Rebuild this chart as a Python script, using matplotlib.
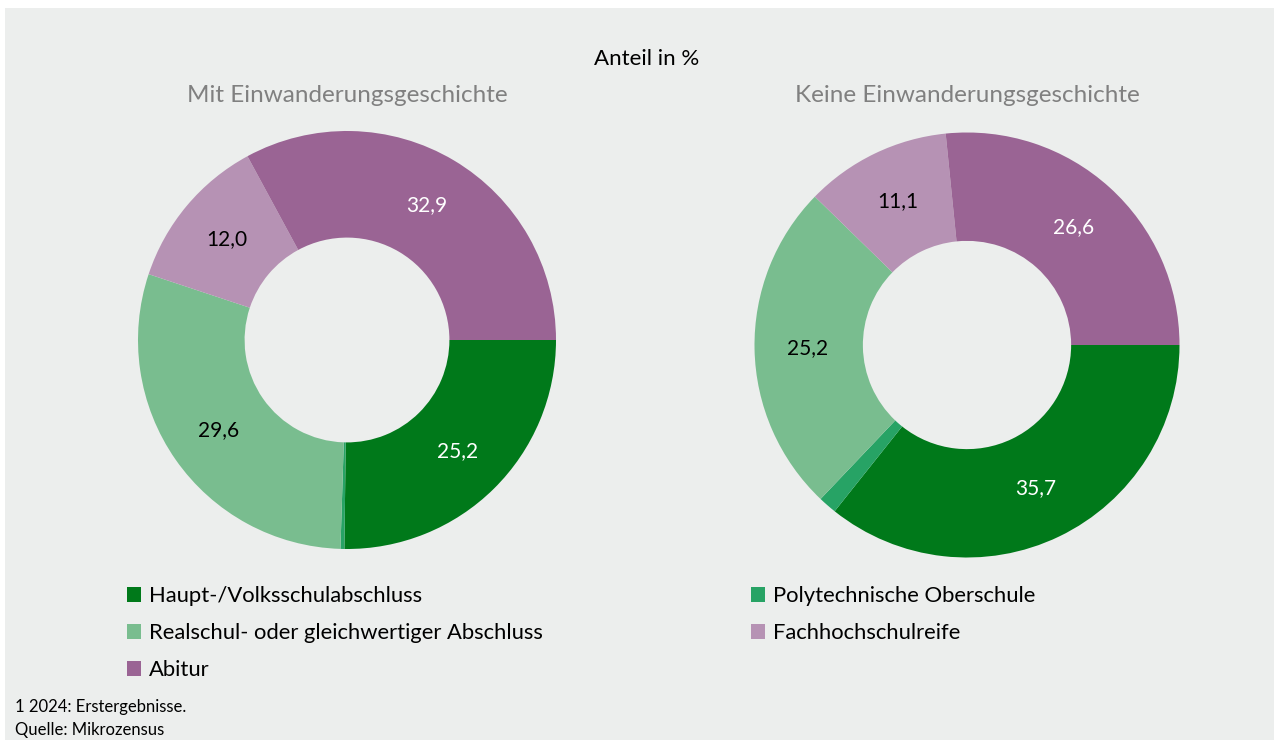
import matplotlib.pyplot as plt
from matplotlib.patches import Patch
import numpy as np

# Data
categories = ["Haupt-/Volksschulabschluss", "Polytechnische Oberschule",
              "Realschul- oder gleichwertiger Abschluss", "Fachhochschulreife", "Abitur"]
mit_werte = [25.2, 0.3, 29.6, 12.0, 32.9]
keine_werte = [35.7, 1.4, 25.2, 11.1, 26.6]
mit_labels = ["25,2", "", "29,6", "12,0", "32,9"]
keine_labels = ["35,7", "", "25,2", "11,1", "26,6"]

colors = ["#00791a", "#27a365", "#79bd8f", "#b692b4", "#9a6494"]
label_colors = ["white", "white", "black", "black", "white"]
bg = "#eceeed"

plt.rcParams['font.family'] = ['Lato', 'DejaVu Sans']

W, H = 1274, 740
fig = plt.figure(figsize=(W / 100, H / 100), dpi=100)
fig.patch.set_facecolor("white")
fig.patches.append(plt.Rectangle((5 / W, 0), 1, (H - 8) / H, transform=fig.transFigure,
                                 facecolor=bg, edgecolor="none", zorder=-10))


def px_axes(cx, cy, r):
    return fig.add_axes([(cx - r) / W, (H - cy - r) / H, 2 * r / W, 2 * r / H])


def donut(ax, values, labels):
    ax.pie(values, colors=colors, startangle=0, counterclock=False,
           radius=1, wedgeprops=dict(width=0.51, edgecolor="none"))
    total = sum(values)
    ang = 0.0
    for v, lab, c in zip(values, labels, label_colors):
        mid = ang + v / total * 360 / 2
        ang += v / total * 360
        if lab:
            t = np.deg2rad(-mid)
            ax.text(0.75 * np.cos(t), 0.75 * np.sin(t), lab, ha="center", va="center",
                    fontsize=15, color=c)
    ax.set_xlim(-1, 1)
    ax.set_ylim(-1, 1)
    ax.set_aspect("equal")
    ax.axis("off")


ax1 = px_axes(347, 340, 209)
donut(ax1, mit_werte, mit_labels)
ax2 = px_axes(967, 345, 212.5)
donut(ax2, keine_werte, keine_labels)

fig.text(647 / W, 1 - 59 / H, "Anteil in %", ha="center", va="center", fontsize=16, color="black")
fig.text(347 / W, 1 - 95 / H, "Mit Einwanderungsgeschichte", ha="center", va="center",
         fontsize=17.5, color="#808080")
fig.text(967 / W, 1 - 95 / H, "Keine Einwanderungsgeschichte", ha="center", va="center",
         fontsize=17.5, color="#808080")

handles = [Patch(facecolor=c, edgecolor="none") for c in colors]
leg_kw = dict(frameon=False, fontsize=15.8, handlelength=0.65, handleheight=0.65,
              handletextpad=0.35, labelspacing=0.78, borderaxespad=0, borderpad=0)
leg1 = fig.legend([handles[0], handles[2], handles[4]],
                  [categories[0], categories[2], categories[4]],
                  loc="upper left", bbox_to_anchor=(127 / W, 1 - 586 / H), **leg_kw)
leg2 = fig.legend([handles[1], handles[3]], [categories[1], categories[3]],
                  loc="upper left", bbox_to_anchor=(751 / W, 1 - 586 / H), **leg_kw)

fig.text(15 / W, 1 - 707 / H, "1 2024: Erstergebnisse.", ha="left", va="center", fontsize=12)
fig.text(15 / W, 1 - 730 / H, "Quelle: Mikrozensus", ha="left", va="center", fontsize=12)

fig.savefig("out.png", dpi=100, facecolor=fig.get_facecolor())
